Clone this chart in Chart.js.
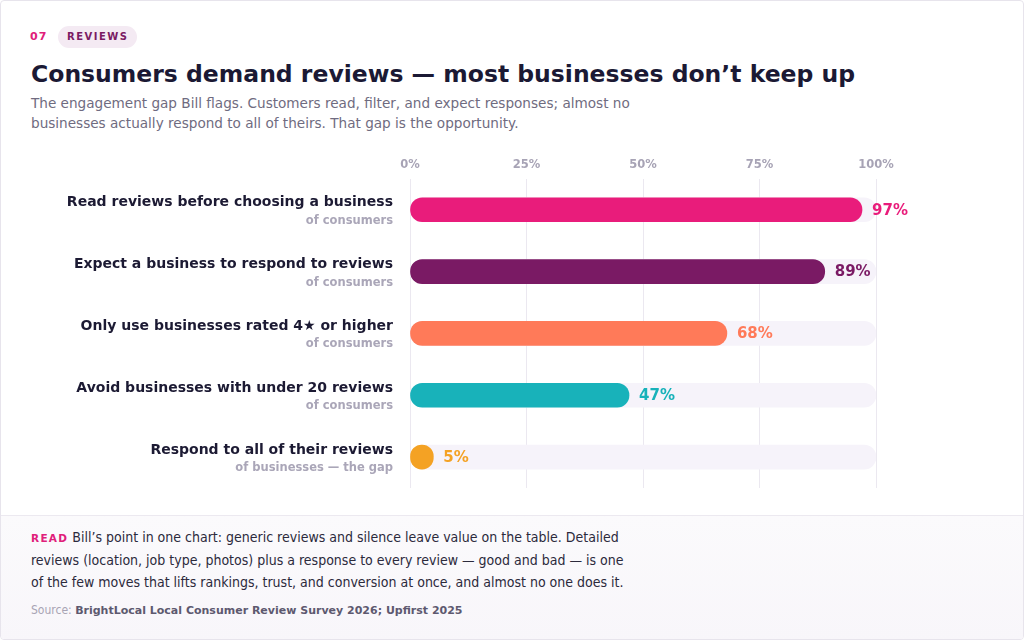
<!DOCTYPE html>
<html>
<head>
<meta charset="utf-8">
<script src="https://cdn.jsdelivr.net/npm/chart.js@4"></script>
<style>
  html, body { margin: 0; padding: 0; background: #fff; }
  body { width: 1024px; height: 640px; position: relative; overflow: hidden; font-family: "DejaVu Sans", sans-serif; }
  .card { position: absolute; left: 0; top: 0; width: 1022px; height: 638px; border: 1px solid #e7e4ec; border-radius: 4px; overflow: hidden; }
  .num { position: absolute; left: 29px; top: 29px; font-size: 11px; font-weight: bold; color: #e0207a; letter-spacing: 1.2px; }
  .pill { position: absolute; left: 57px; top: 25px; height: 22px; line-height: 22px; padding: 0 8px 0 9px; border-radius: 11px; background: #f4eaf3; color: #7b1a63; font-size: 10px; font-weight: bold; letter-spacing: 1.5px; }
  h1 { position: absolute; left: 30px; top: 59px; margin: 0; font-size: 23.5px; font-weight: bold; color: #1b1934; white-space: nowrap; }
  .sub { position: absolute; left: 30px; top: 92px; width: 640px; font-size: 13.6px; line-height: 20px; color: #6f6b80; }
  #wrap { position: absolute; left: 0; top: 150px; width: 1024px; height: 345px; }
  .foot { position: absolute; left: 0; top: 514px; width: 1024px; height: 126px; border-top: 1px solid #ece9f0; background: linear-gradient(180deg, #fbfafc, #f8f6fa); }
  .read { position: absolute; left: 30px; top: 10px; width: 605px; font-family: "DejaVu Sans Condensed", "DejaVu Sans", sans-serif; font-stretch: condensed; font-size: 14px; line-height: 22px; color: #2c2a3c; }
  .read b { color: #e0207a; font-family: "DejaVu Sans", sans-serif; font-stretch: normal; font-size: 10.5px; letter-spacing: 1.3px; margin-right: 4px; }
  .src { position: absolute; left: 30px; top: 87px; font-size: 12px; color: #a8a4b4; font-family: "DejaVu Sans Condensed", "DejaVu Sans", sans-serif; font-stretch: condensed; }
  .src b { color: #5d596f; font-family: "DejaVu Sans", sans-serif; font-stretch: normal; font-size: 11px; }
</style>
</head>
<body>
<div class="card">
  <div class="num">07</div>
  <div class="pill">REVIEWS</div>
  <h1>Consumers demand reviews — most businesses don’t keep up</h1>
  <div class="sub">The engagement gap Bill flags. Customers read, filter, and expect responses; almost no businesses actually respond to all of theirs. That gap is the opportunity.</div>
  <div id="wrap"><canvas id="myChart"></canvas></div>
  <div class="foot">
    <div class="read"><b>READ</b>Bill’s point in one chart: generic reviews and silence leave value on the table. Detailed reviews (location, job type, photos) plus a response to every review — good and bad — is one of the few moves that lifts rankings, trust, and conversion at once, and almost no one does it.</div>
    <div class="src">Source: <b>BrightLocal Local Consumer Review Survey 2026; Upfirst 2025</b></div>
  </div>
</div>
<script>
const labels = [
  "Read reviews before choosing a business",
  "Expect a business to respond to reviews",
  "Only use businesses rated 4\u2605 or higher",
  "Avoid businesses with under 20 reviews",
  "Respond to all of their reviews"
];
const subLabels = ["of consumers", "of consumers", "of consumers", "of consumers", "of businesses \u2014 the gap"];
const values = [97, 89, 68, 47, 5];
const barColors = ["#e91c7b", "#7a1a64", "#ff7a59", "#18b2ba", "#f4a224"];
const track = [100, 100, 100, 100, 100];
const xTicks = [0, 25, 50, 75, 100];

const rowText = {
    id: "rowText",
    afterDatasetsDraw(chart) {
        const c = chart.ctx;
        const y = chart.scales.y;
        const x = chart.scales.x;
        c.save();
        labels.forEach(function(lab, i) {
            const cy = y.getPixelForValue(i);
            c.textAlign = "right";
            c.textBaseline = "middle";
            c.font = "bold 14px 'DejaVu Sans'";
            c.fillStyle = "#1c1a33";
            c.fillText(lab, 392, cy - 7);
            c.font = "bold 11.5px 'DejaVu Sans'";
            c.fillStyle = "#aaa6b8";
            c.fillText(subLabels[i], 392, cy + 11);
            // value label
            c.textAlign = "left";
            c.font = "bold 15px 'DejaVu Sans'";
            c.fillStyle = barColors[i];
            c.fillText(values[i] + "%", x.getPixelForValue(values[i]) + 10, cy + 1);
        });
        c.restore();
    }
};

const ctx = document.getElementById("myChart");
new Chart(ctx, {
    type: "bar",
    data: {
        labels: labels,
        datasets: [{
            data: values,
            backgroundColor: barColors,
            borderRadius: 12,
            borderSkipped: false,
            barThickness: 24,
            grouped: false
        }, {
            data: track,
            backgroundColor: "#f6f3fa",
            borderRadius: 12,
            borderSkipped: false,
            barThickness: 24,
            grouped: false
        }]
    },
    options: {
        indexAxis: "y",
        responsive: true,
        maintainAspectRatio: false,
        animation: false,
        layout: { padding: { left: 409, right: 149, top: 0, bottom: 8 } },
        plugins: {
            legend: { display: false },
            tooltip: { enabled: false }
        },
        scales: {
            x: {
                position: "top",
                min: 0,
                max: 100,
                afterBuildTicks: function(axis) {
                    axis.ticks = xTicks.map(function(v) { return { value: v }; });
                },
                ticks: {
                    padding: 7,
                    color: "#a7a3b5",
                    font: { family: "DejaVu Sans", size: 11.5, weight: "bold" },
                    callback: function(v) { return v + "%"; }
                },
                grid: { color: "#ebe8f0", drawTicks: false },
                border: { display: false }
            },
            y: {
                display: false
            }
        }
    },
    plugins: [rowText]
});
</script>
</body>
</html>
